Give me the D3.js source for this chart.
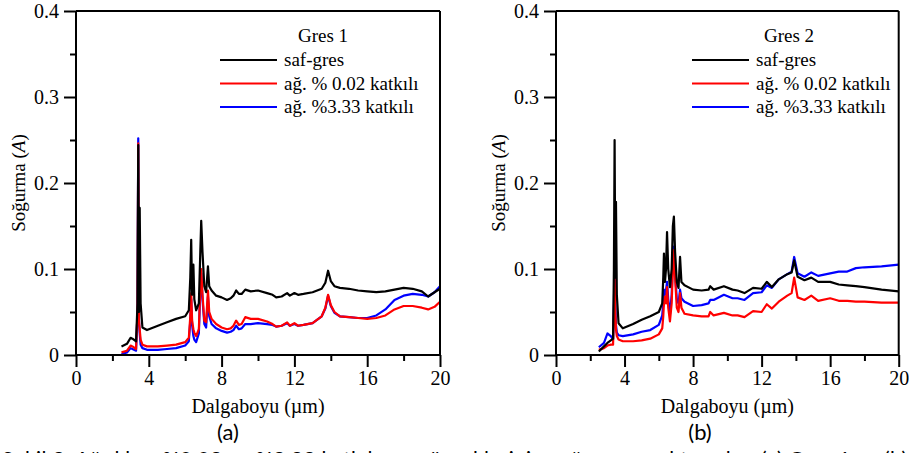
<!DOCTYPE html>
<html><head><meta charset="utf-8">
<script src="https://cdn.jsdelivr.net/npm/d3@7"></script>
<style>body{margin:0;background:#fff;overflow:hidden}svg{display:block}
.serif{font-family:"Liberation Serif","Times New Roman","DejaVu Serif",serif}
.sans{font-family:Lato,"Noto Sans",sans-serif}</style>
</head><body>
<svg id="c" width="909" height="453"></svg>
<script>
// ---------- DATA ----------
const seriesNames = ["saf-gres", "ağ. % 0.02 katkılı", "ağ. %3.33 katkılı"];
const panelTitles = ["Gres 1", "Gres 2"];
const panelLabels = ["(a)", "(b)"];
const xTicks = [0, 4, 8, 12, 16, 20];
const yTicks = [0, 0.1, 0.2, 0.3, 0.4];
const yTickLabels = ["0", "0.1", "0.2", "0.3", "0.4"];
const xTitle = "Dalgaboyu (µm)";
const caption = "Şekil 3. Ağırlıkça %0.02 ve %3.33 katkılı gres örneklerinin soğurma spektrumları (a) Gres 1 ve (b)";

const gres1Wl = [2.5,2.8,3.0,3.1,3.3,3.38,3.42,3.46,3.5,3.55,3.65,3.9,4.5,5.0,5.5,6.0,6.2,6.28,6.33,6.38,6.45,6.5,6.6,6.75,6.83,6.88,6.95,7.05,7.15,7.25,7.32,7.45,7.7,8.0,8.3,8.5,8.65,8.8,8.95,9.1,9.3,9.6,10.0,10.5,10.8,11.0,11.3,11.6,11.75,12.0,12.2,12.5,13.0,13.5,13.7,13.85,14.0,14.2,14.5,15.0,15.5,16.0,16.5,17.0,17.5,18.0,18.5,19.0,19.35,19.7,20.0];
const gres1Saf = [0.010,0.013,0.020,0.019,0.016,0.06,0.244,0.05,0.171,0.06,0.032,0.029,0.034,0.038,0.042,0.045,0.052,0.09,0.134,0.07,0.105,0.065,0.052,0.06,0.12,0.156,0.12,0.08,0.073,0.103,0.08,0.075,0.069,0.067,0.064,0.066,0.069,0.075,0.071,0.071,0.076,0.074,0.075,0.072,0.070,0.067,0.068,0.072,0.069,0.072,0.070,0.071,0.073,0.077,0.084,0.098,0.086,0.080,0.078,0.077,0.075,0.074,0.073,0.074,0.076,0.078,0.077,0.074,0.068,0.073,0.077];
const gres1Red = [0.003,0.005,0.011,0.010,0.007,0.05,0.246,0.04,0.03,0.018,0.012,0.010,0.010,0.011,0.012,0.015,0.020,0.045,0.072,0.04,0.03,0.026,0.022,0.03,0.08,0.10,0.07,0.04,0.038,0.075,0.05,0.042,0.036,0.032,0.030,0.031,0.034,0.040,0.035,0.036,0.044,0.042,0.042,0.039,0.036,0.033,0.034,0.038,0.034,0.037,0.034,0.035,0.037,0.045,0.055,0.070,0.058,0.050,0.045,0.044,0.043,0.042,0.043,0.046,0.053,0.057,0.057,0.055,0.053,0.056,0.062];
const gres1Blue = [0.001,0.003,0.008,0.007,0.005,0.05,0.252,0.04,0.025,0.012,0.008,0.006,0.006,0.007,0.008,0.011,0.016,0.04,0.065,0.035,0.022,0.018,0.015,0.025,0.075,0.095,0.065,0.036,0.032,0.068,0.045,0.036,0.031,0.028,0.026,0.027,0.029,0.034,0.030,0.031,0.036,0.036,0.037,0.036,0.035,0.033,0.034,0.037,0.034,0.036,0.034,0.035,0.037,0.045,0.054,0.069,0.057,0.049,0.045,0.044,0.043,0.043,0.046,0.053,0.064,0.069,0.071,0.070,0.068,0.073,0.080];

const gres2Wl = [2.5,2.8,3.0,3.2,3.33,3.38,3.42,3.46,3.5,3.55,3.65,3.9,4.5,5.0,5.5,6.0,6.2,6.26,6.3,6.36,6.42,6.48,6.55,6.65,6.75,6.82,6.88,6.95,7.05,7.15,7.24,7.32,7.5,8.0,8.5,8.9,9.0,9.2,9.8,10.3,10.6,11.0,11.5,12.0,12.3,12.6,13.0,13.5,13.75,13.9,14.1,14.5,14.9,15.3,16.0,16.5,17.0,17.5,18.0,19.0,20.0];
const gres2Saf = [0.004,0.010,0.014,0.017,0.019,0.10,0.250,0.09,0.178,0.07,0.037,0.031,0.036,0.041,0.045,0.050,0.060,0.09,0.118,0.085,0.10,0.143,0.10,0.079,0.10,0.150,0.161,0.12,0.085,0.078,0.114,0.085,0.081,0.076,0.075,0.076,0.080,0.076,0.080,0.076,0.075,0.072,0.078,0.077,0.085,0.079,0.088,0.094,0.096,0.110,0.091,0.087,0.090,0.085,0.085,0.082,0.081,0.080,0.079,0.076,0.074];
const gres2Red = [0.006,0.008,0.011,0.012,0.012,0.05,0.097,0.05,0.03,0.022,0.018,0.016,0.016,0.017,0.019,0.024,0.031,0.045,0.060,0.068,0.060,0.079,0.055,0.039,0.06,0.10,0.122,0.09,0.055,0.050,0.072,0.055,0.048,0.046,0.045,0.045,0.050,0.046,0.049,0.046,0.046,0.044,0.051,0.050,0.059,0.054,0.062,0.069,0.072,0.090,0.067,0.064,0.069,0.063,0.066,0.063,0.063,0.062,0.062,0.061,0.061];
const gres2Blue = [0.009,0.014,0.025,0.022,0.018,0.06,0.11,0.06,0.035,0.026,0.023,0.022,0.024,0.027,0.029,0.035,0.046,0.06,0.076,0.07,0.075,0.085,0.065,0.047,0.07,0.11,0.126,0.095,0.065,0.060,0.076,0.066,0.062,0.057,0.058,0.060,0.064,0.064,0.070,0.066,0.066,0.064,0.072,0.073,0.081,0.078,0.088,0.094,0.097,0.114,0.095,0.091,0.096,0.092,0.095,0.097,0.097,0.101,0.102,0.103,0.105];

// ---------- DRAW ----------
const svg = d3.select("#c");
const colors = ["#000000", "#ff0000", "#0000ff"];

const panels = [
  {x0: 76, x1: 440, wl: gres1Wl, vals: [gres1Saf, gres1Red, gres1Blue], legX: 220, titleX: 323, labelX: 228},
  {x0: 556, x1: 898.7, wl: gres2Wl, vals: [gres2Saf, gres2Red, gres2Blue], legX: 692, titleX: 789, labelX: 700}
];
const yTop = 11, yBot = 355;

panels.forEach((p, pi) => {
  const g = svg.append("g");
  const x = d3.scaleLinear().domain([0, 20]).range([p.x0, p.x1]);
  const y = d3.scaleLinear().domain([0, 0.4]).range([yBot, yTop]);

  const line = d3.line().x(d => x(d[0])).y(d => y(d[1]));
  [2, 1, 0].forEach(si => {
    const pts = p.wl.map((w, i) => [w, p.vals[si][i]]);
    g.append("path").attr("d", line(pts)).attr("fill", "none")
      .attr("stroke", colors[si]).attr("stroke-width", 2.2).attr("stroke-linejoin", "round");
  });

  g.append("line").attr("x1", p.x0).attr("x2", p.x1).attr("y1", yTop).attr("y2", yTop)
    .attr("stroke", "#000").attr("stroke-width", 2);
  g.append("line").attr("x1", p.x1).attr("x2", p.x1).attr("y1", yTop).attr("y2", yBot)
    .attr("stroke", "#000").attr("stroke-width", 2);

  const xAxis = d3.axisBottom(x).tickValues(xTicks).tickSize(12).tickPadding(4).tickFormat(d3.format("d"));
  const xMinor = d3.axisBottom(x).tickValues([2, 6, 10, 14, 18]).tickSize(6).tickFormat("");
  const yAxis = d3.axisLeft(y).tickValues(yTicks).tickSize(12).tickPadding(5).tickFormat((d, i) => yTickLabels[i]);
  const yMinor = d3.axisLeft(y).tickValues([0.05, 0.15, 0.25, 0.35]).tickSize(6).tickFormat("");

  [ [xAxis, "x"], [xMinor, "x"], [yAxis, "y"], [yMinor, "y"] ].forEach(([ax, t]) => {
    const a = g.append("g").attr("transform", t === "x" ? `translate(0,${yBot})` : `translate(${p.x0},0)`).call(ax);
    a.attr("font-family", null).attr("font-size", null).attr("class", "serif");
    a.select(".domain").attr("stroke", "#000").attr("stroke-width", 2)
      .attr("d", t === "x" ? `M${p.x0},0H${p.x1}` : `M0,${yBot}V${yTop}`);
    a.selectAll(".tick line").attr("stroke", "#000").attr("stroke-width", 2);
    a.selectAll("text").attr("class", "serif").style("font-size", "20px").attr("fill", "#000");
  });

  g.append("text").attr("class", "serif").attr("x", (p.x0 + p.x1) / 2).attr("y", 413).attr("text-anchor", "middle")
    .style("font-size", "20px").text(xTitle);
  const yt = g.append("text").attr("class", "serif").attr("transform", `translate(${p.x0 - 51},${(yTop + yBot) / 2}) rotate(-90)`)
    .attr("text-anchor", "middle").style("font-size", "19px");
  yt.append("tspan").text("Soğurma (");
  yt.append("tspan").attr("font-style", "italic").text("A");
  yt.append("tspan").text(")");

  g.append("text").attr("class", "serif").attr("x", p.titleX).attr("y", 42).attr("text-anchor", "middle")
    .style("font-size", "19px").text(panelTitles[pi]);
  seriesNames.forEach((n, si) => {
    const ly = 60 + si * 23.5;
    g.append("line").attr("x1", p.legX).attr("x2", p.legX + 57).attr("y1", ly).attr("y2", ly)
      .attr("stroke", colors[si]).attr("stroke-width", 2);
    g.append("text").attr("class", "serif").attr("x", p.legX + 64).attr("y", ly + 6)
      .style("font-size", "19px").text(n);
  });

  g.append("text").attr("class", "sans").attr("x", p.labelX).attr("y", 440).attr("text-anchor", "middle")
    .style("font-size", "22px").text(panelLabels[pi]);
});

svg.append("text").attr("class", "sans").attr("x", 2).attr("y", 467)
  .style("font-size", "21px").attr("textLength", 905).attr("lengthAdjust", "spacing").text(caption);
</script>
</body></html>
